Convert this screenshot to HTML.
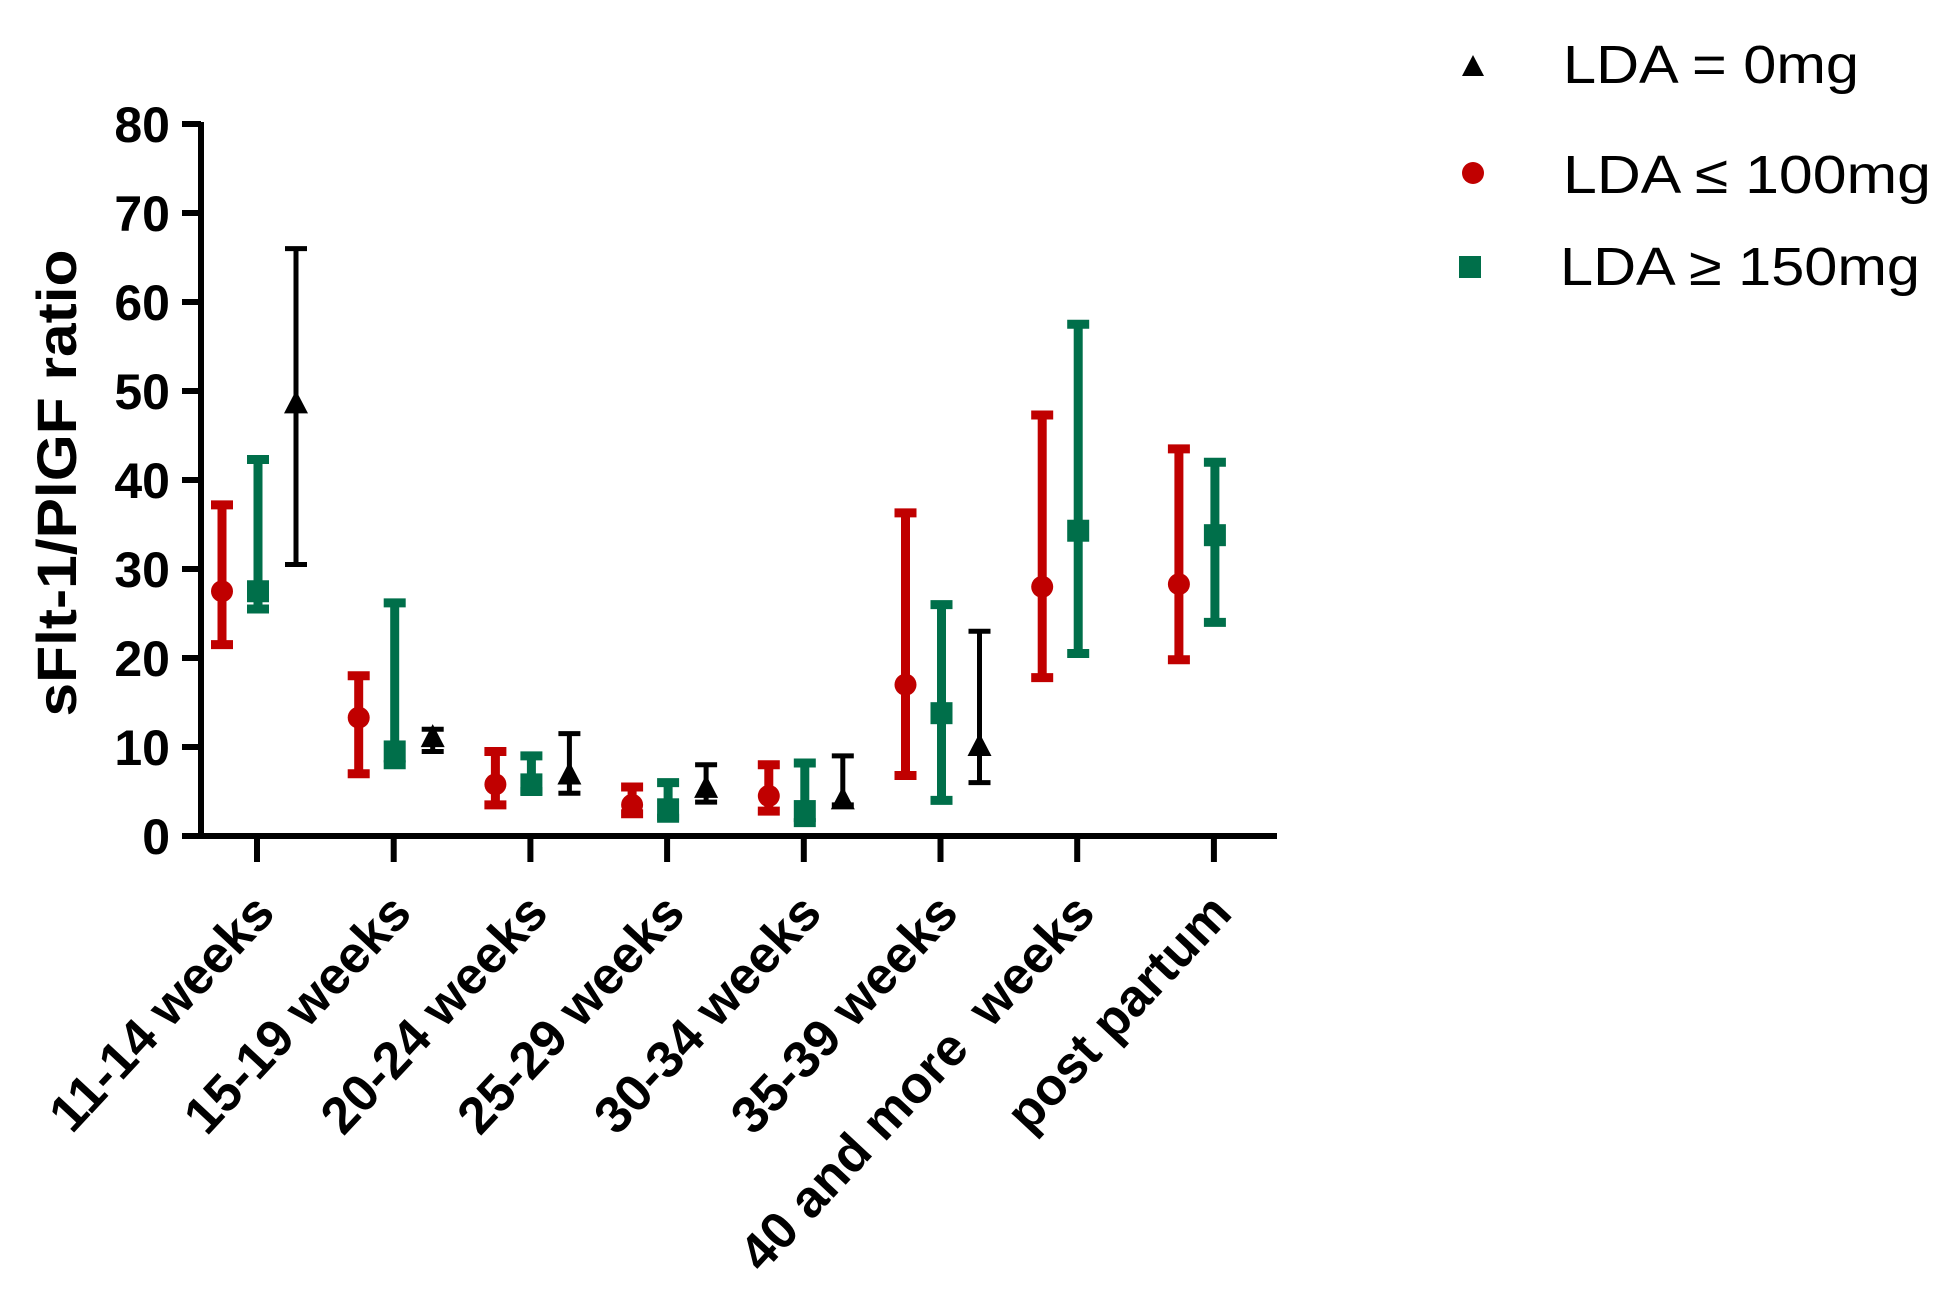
<!DOCTYPE html>
<html><head><meta charset="utf-8"><style>
html,body{margin:0;padding:0;background:#fff;}
svg{display:block;}
text{font-family:"Liberation Sans",Arial,sans-serif;}
</style></head><body>
<svg id="chart" width="1956" height="1304" viewBox="0 0 1956 1304" xmlns="http://www.w3.org/2000/svg">
<g id="axes"></g>
<g id="marks"></g>
<text x="0" y="0" transform="translate(76,483) rotate(-90)" text-anchor="middle" font-weight="bold" font-size="56" textLength="467" lengthAdjust="spacingAndGlyphs">sFlt-1/PlGF ratio</text>
<g>
  <polygon points="1473,55 1484,76 1462,76" fill="#000"/>
  <text x="1563" y="83" font-size="54" textLength="296" lengthAdjust="spacingAndGlyphs">LDA = 0mg</text>
  <circle cx="1473" cy="173" r="11" fill="#c00000"/>
  <text x="1563" y="193" font-size="54" textLength="368" lengthAdjust="spacingAndGlyphs">LDA ≤ 100mg</text>
  <rect x="1459" y="256" width="22" height="22" fill="#006f4a"/>
  <text x="1560" y="285" font-size="54" textLength="360" lengthAdjust="spacingAndGlyphs">LDA ≥ 150mg</text>
</g>
</svg>
<script>
const categories = ["11-14 weeks","15-19 weeks","20-24 weeks","25-29 weeks","30-34 weeks","35-39 weeks","40 and more\u00a0 weeks","post partum"];
const yTicks = [0,10,20,30,40,50,60,70,80];
const redMid = [27.5,13.3,5.8,3.5,4.5,17,28,28.3];
const redLow = [21.5,7,3.5,2.5,2.8,6.8,17.8,19.8];
const redHigh = [37.2,18,9.5,5.5,8,36.3,47.3,43.5];
const greenMid = [27.5,9.5,5.8,3,2.8,13.8,34.3,33.8];
const greenLow = [25.5,8,5,2,1.5,4,20.5,24];
const greenHigh = [42.3,26.2,9,6,8.2,26,57.5,42];
const blackMid = [48.5,11,6.8,5.3,4,10,null,null];
const blackLow = [30.5,9.5,4.8,3.8,3.5,6,null,null];
const blackHigh = [66,12,11.5,8,9,23,null,null];

const NS="http://www.w3.org/2000/svg";
const y0=836, yPer=8.9, x0=257, xStep=136.7;
function yS(v){return y0 - v*yPer;}
function xS(i){return x0 + i*xStep;}
function mk(tag,attrs,parent){const e=document.createElementNS(NS,tag);for(const k in attrs)e.setAttribute(k,attrs[k]);parent.appendChild(e);return e;}
const axes=document.getElementById('axes'), marks=document.getElementById('marks');

let l=mk('line',{x1:201,y1:yS(80)-2,x2:201,y2:y0+3,stroke:'#000','stroke-width':6},axes);


l=mk('line',{x1:182,y1:y0,x2:1277,y2:y0,stroke:'#000','stroke-width':6},axes);


yTicks.forEach(v=>{
  const t=mk('line',{x1:182,y1:yS(v),x2:201,y2:yS(v),stroke:'#000','stroke-width':6},axes);
  
  
  const tx=mk('text',{x:170,y:yS(v)+18,'text-anchor':'end','font-size':50,'font-weight':'bold'},axes);
  tx.textContent=v;
  
  
});
categories.forEach((c,i)=>{
  const x=xS(i);
  const t=mk('line',{x1:x,y1:y0,x2:x,y2:862,stroke:'#000','stroke-width':6},axes);
  
  
  const tx=mk('text',{x:0,y:0,transform:`translate(${x+20},915) rotate(-47)`,'text-anchor':'end','font-size':52,'font-weight':'bold'},axes);
  tx.textContent=c;
  
  
});

function series(mid,low,high,off,color,sw,shape,name){
  mid.forEach((m,i)=>{
    if(m===null)return;
    const x=xS(i)+off;
    const g=mk('g',{},marks);
    
    
    mk('line',{x1:x,y1:yS(low[i]),x2:x,y2:yS(high[i]),stroke:color,'stroke-width':sw},g);
    mk('line',{x1:x-11,y1:yS(low[i]),x2:x+11,y2:yS(low[i]),stroke:color,'stroke-width':sw},g);
    mk('line',{x1:x-11,y1:yS(high[i]),x2:x+11,y2:yS(high[i]),stroke:color,'stroke-width':sw},g);
    const y=yS(m);
    if(shape==='circle')mk('circle',{cx:x,cy:y,r:11,fill:color},g);
    else if(shape==='square')mk('rect',{x:x-11,y:y-11,width:22,height:22,fill:color},g);
    else mk('polygon',{points:`${x},${y-14} ${x+12},${y+9} ${x-12},${y+9}`,fill:color},g);
  });
}
series(redMid,redLow,redHigh,-35,'#c00000',9,'circle','lda-100');
series(greenMid,greenLow,greenHigh,1,'#006f4a',9,'square','lda-150');
series(blackMid,blackLow,blackHigh,39,'#000',5,'triangle','lda-0');
</script>
</body></html>
